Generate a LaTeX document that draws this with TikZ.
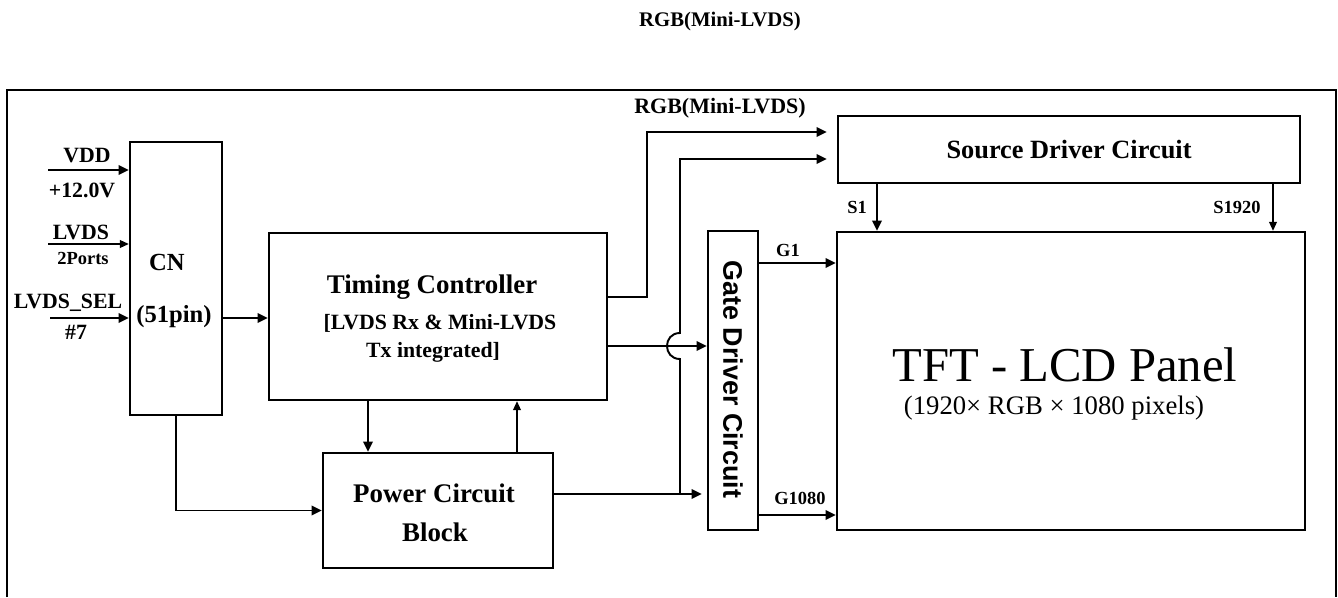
\documentclass[tikz,border=0pt]{standalone}
\usepackage{fontspec}
\setmainfont{Liberation Serif}
\newfontfamily\gatefont{Liberation Sans}
\usetikzlibrary{arrows.meta}

\begin{document}
\begin{tikzpicture}[
  blk/.style={draw, line width=1.4pt, inner sep=0pt},
  wire/.style={line width=1.1pt, -{Triangle[length=5.8pt,width=5.4pt]}},
  thinwire/.style={line width=0.7pt, -{Triangle[length=5pt,width=4.4pt]}},
  lbl/.style={inner sep=0pt, font=\fontsize{12.4}{14}\selectfont\bfseries},
  pin/.style={inner sep=0pt, font=\fontsize{10.5}{12}\selectfont\bfseries},
  big/.style={inner sep=0pt, font=\fontsize{15.3}{18}\selectfont\bfseries}
]
\useasboundingbox (0,0) rectangle (26.760,11.940);

% outer frame, its lower edge is cut off
\draw[line width=1.4pt] (0.140,0) -- (0.140,10.140) -- (26.720,10.140) -- (26.720,0);
\node[inner sep=0pt, font=\fontsize{11.8}{14}\selectfont\bfseries] (title) at (14.400,11.500) {RGB(Mini-LVDS)};

% blocks
\node[blk, minimum width=1.840cm, minimum height=5.460cm] (cn) at (3.520,6.370) {};
\node[blk, minimum width=6.760cm, minimum height=3.340cm] (tc) at (8.760,5.610) {};
\node[blk, minimum width=4.600cm, minimum height=2.300cm] (pwr) at (8.760,1.730) {};
\node[blk, minimum width=9.240cm, minimum height=1.340cm, font=\fontsize{15}{18}\selectfont\bfseries] (src) at (21.380,8.950) {Source Driver Circuit};
\node[blk, minimum width=1.000cm, minimum height=5.980cm] (gate) at (14.660,4.330) {};
\node[blk, minimum width=9.360cm, minimum height=5.960cm] (pnl) at (21.420,4.320) {};

% block texts
\node[inner sep=0pt, font=\fontsize{14}{16}\selectfont\bfseries] (cnA) at (3.340,6.700) {CN};
\node[inner sep=0pt, font=\fontsize{14}{16}\selectfont\bfseries] (cnB) at (3.480,5.600) {(51pin)};
\node[big] (tcA) at (8.640,6.200) {Timing Controller};
\node[lbl] (tcB) at (8.800,5.480) {[LVDS Rx \& Mini-LVDS};
\node[lbl] (tcC) at (8.660,4.900) {Tx integrated]};
\node[big] (pwrA) at (8.680,2.080) {Power Circuit};
\node[big] (pwrB) at (8.700,1.300) {Block};
\node[inner sep=0pt, rotate=-90, font=\gatefont\bfseries\fontsize{15.3}{18}\selectfont] (gateT) at (14.660,4.350) {Gate Driver Circuit};
\node[inner sep=0pt, font=\fontsize{27.7}{32}\selectfont] (pnlA) at (21.300,4.640) {TFT - LCD Panel};
\node[inner sep=0pt, font=\fontsize{15.2}{18}\selectfont] (pnlB) at (21.080,3.780) {(1920× RGB × 1080 pixels)};

% inputs
\coordinate (vddIn) at (0.960,8.540);
\coordinate (lvdsIn) at (0.960,7.060);
\coordinate (selIn) at (1.000,5.580);
\draw[wire] (vddIn) -- (vddIn -| cn.west);
\draw[thinwire] (lvdsIn) -- (lvdsIn -| cn.west);
\draw[wire] (selIn) -- (selIn -| cn.west);
\node[lbl] (vddA) at (1.740,8.820) {VDD};
\node[lbl] (vddB) at (1.640,8.140) {+12.0V};
\node[lbl] (lvdsA) at (1.620,7.300) {LVDS};
\node[pin] (lvdsB) at (1.660,6.780) {2Ports};
\node[lbl] (selA) at (1.360,5.880) {LVDS\_SEL};
\node[lbl] (selB) at (1.520,5.300) {\#7};

% CN, timing controller and power
\draw[wire] (selIn -| cn.east) -- (selIn -| tc.west);
\draw[wire] (cn.south) |- (pwr.west);
\coordinate (tpA) at (7.360,0);
\coordinate (tpB) at (10.340,0);
\draw[wire] (tpA |- tc.south) -- (tpA |- pwr.north);
\draw[thinwire] (tpB |- pwr.north) -- (tpB |- tc.south);

% to source and gate drivers
\coordinate (rgbA) at (12.940,6.000);
\coordinate (rgbB) at (12.940,9.300);
\draw[wire, shorten >=0.2cm] (rgbA -| tc.east) -- (rgbA) -- (rgbB) -- (rgbB -| src.west);
\node[lbl, font=\fontsize{12.5}{14}\selectfont\bfseries] (rgbT) at (14.400,9.780) {RGB(Mini-LVDS)};
\coordinate (tgA) at (0,5.020);
\draw[wire] (tgA -| tc.east) -- (tgA -| gate.west);
\coordinate (pgA) at (13.600,2.060);
\coordinate (psA) at (13.600,8.760);
\draw[wire, shorten >=0.1cm] (pgA -| pwr.east) -- (pgA -| gate.west);
\draw[wire, shorten >=0.2cm] (pgA) -- (13.600,4.760) .. controls (13.253,4.760) and (13.253,5.280) .. (13.600,5.280) -- (psA) -- (psA -| src.west);

% panel lines
\coordinate (sA) at (17.540,0);
\coordinate (sB) at (25.460,0);
\coordinate (gA) at (0,6.680);
\coordinate (gB) at (0,1.640);
\draw[wire] (sA |- src.south) -- (sA |- pnl.north);
\draw[thinwire] (sB |- src.south) -- (sB |- pnl.north);
\draw[wire] (gA -| gate.east) -- (gA -| pnl.west);
\draw[wire] (gB -| gate.east) -- (gB -| pnl.west);
\node[pin] (s1) at (17.140,7.800) {S1};
\node[pin] (s1920) at (24.740,7.800) {S1920};
\node[pin] (g1) at (15.760,6.940) {G1};
\node[pin] (g1080) at (16.000,1.980) {G1080};
\end{tikzpicture}
\end{document}
